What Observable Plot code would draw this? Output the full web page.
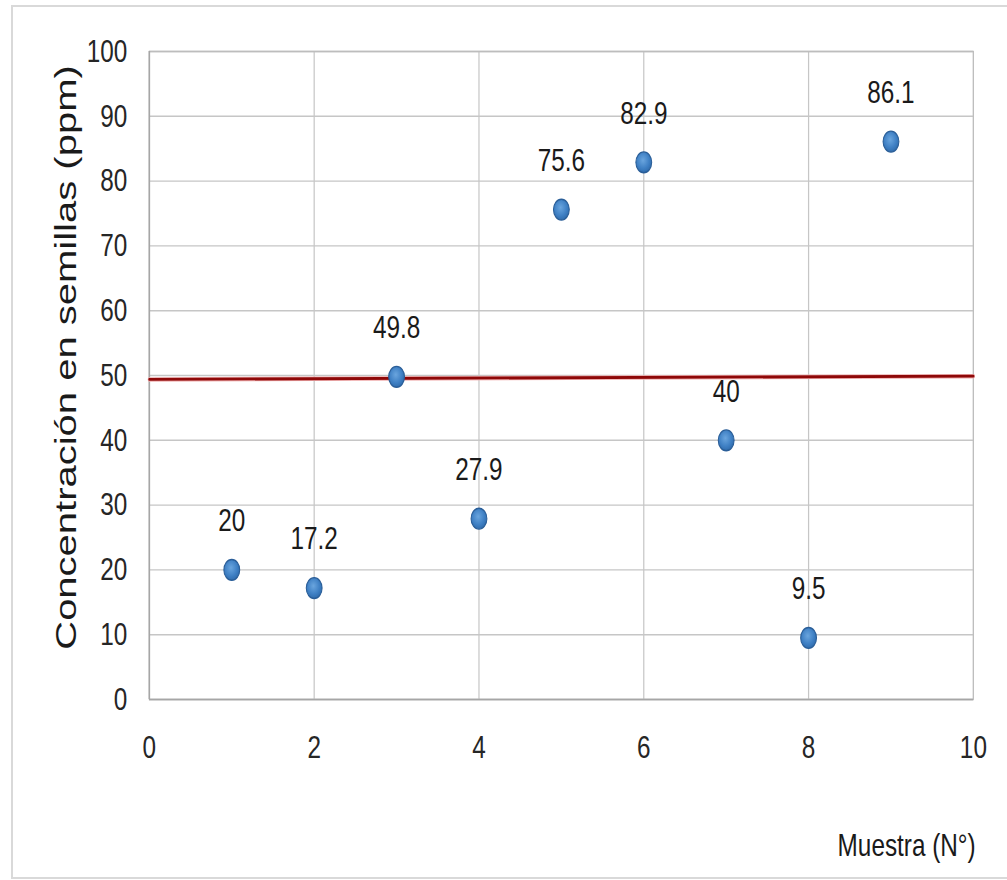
<!DOCTYPE html>
<html><head><meta charset="utf-8">
<script src="https://cdn.jsdelivr.net/npm/d3@7"></script>
<script src="https://cdn.jsdelivr.net/npm/@observablehq/plot@0.6"></script>
<style>
body{margin:0;background:#fff;}
#wrap{position:relative;width:1007px;height:880px;overflow:hidden;}
#border{position:absolute;left:11px;top:5px;width:1010px;height:874px;border:2px solid #d9d9d9;box-sizing:border-box;pointer-events:none;}
#chart{position:absolute;left:0;top:0;width:1400px;}
</style></head><body><div id="wrap"><div id="chart"></div><div id="border"></div></div>
<script>
const muestra = [1, 2, 3, 4, 5, 6, 7, 8, 9];
const concentracion = [20, 17.2, 49.8, 27.9, 75.6, 82.9, 40, 9.5, 86.1];
const etiquetas = ["20", "17.2", "49.8", "27.9", "75.6", "82.9", "40", "9.5", "86.1"];
const xTicks = [0, 2, 4, 6, 8, 10];
const yTicks = [0, 10, 20, 30, 40, 50, 60, 70, 80, 90, 100];
const lineaX = [0, 10];
const lineaY = [49.4, 49.9];
const tituloY = "Concentración en semillas (ppm)";
const tituloX = "Muestra (N°)";

const puntos = muestra.map((m, i) => ({x: m, y: concentracion[i], t: etiquetas[i]}));
const linea = lineaX.map((x, i) => ({x, y: lineaY[i]}));

// the original chart is horizontally compressed; draw wide, then squeeze
const s = 0.76;
const font = "'Liberation Sans',Arial,sans-serif";
const W = 1007 / s;

const chart = Plot.plot({
  width: W,
  height: 880,
  marginLeft: 149 / s,
  marginRight: 34 / s,
  marginTop: 51,
  marginBottom: 181,
  style: {fontFamily: font, fontSize: "32px", color: "#262626", background: "transparent"},
  x: {domain: [0, 10]},
  y: {domain: [0, 100]},
  marks: [
    Plot.gridX(xTicks, {stroke: "#c6c6c6", strokeOpacity: 1, strokeWidth: 1.6}),
    Plot.gridY(yTicks, {stroke: "#c6c6c6", strokeOpacity: 1, strokeWidth: 1.4}),
    Plot.frame({stroke: "#bdbdbd", strokeWidth: 1.5}),
    Plot.ruleX([0], {stroke: "#a6a6a6", strokeWidth: 2}),
    Plot.ruleY([0], {stroke: "#a6a6a6", strokeWidth: 1.6}),
    Plot.axisX({ticks: xTicks, tickSize: 0, tickPadding: 36, label: null, fontFamily: font, fontSize: 32, fill: "#262626"}),
    Plot.axisY({ticks: yTicks, tickSize: 0, tickPadding: 29, label: null, fontFamily: font, fontSize: 32, fill: "#262626"}),
    Plot.line(linea, {x: "x", y: "y", stroke: "#f0b0b0", strokeWidth: 4.5}),
    Plot.line(linea, {x: "x", y: "y", stroke: "#8e0808", strokeWidth: 2.8}),
    Plot.dot(puntos, {x: "x", y: "y", r: 10.4, fill: "url(#dotgrad)", stroke: "#2a5e98", strokeWidth: 1.4}),
    Plot.text(puntos, {x: "x", y: "y", text: "t", dy: -49, fontFamily: font, fontSize: 32, fill: "#1a1a1a"}),
    Plot.text([tituloY], {frameAnchor: "left", textAnchor: "middle", rotate: -90, dx: -109, dy: -18, fontFamily: font, fontSize: 40, fill: "#1a1a1a"}),
    Plot.text([tituloX], {frameAnchor: "bottom-right", textAnchor: "end", dx: 3, dy: 156, fontFamily: font, fontSize: 32, fill: "#1a1a1a"})
  ]
});
chart.style.maxWidth = "none";
chart.style.width = W + "px";
chart.style.height = "880px";
chart.style.transform = `scale(${s},1)`;
chart.style.transformOrigin = "0 0";
const defs = document.createElementNS("http://www.w3.org/2000/svg", "defs");
defs.innerHTML = `<radialGradient id="dotgrad" cx="45%" cy="40%" r="65%">
  <stop offset="0%" stop-color="#6aa5de"/><stop offset="60%" stop-color="#3f80c4"/><stop offset="100%" stop-color="#2d68a8"/>
</radialGradient>`;
chart.prepend(defs);
document.getElementById("chart").append(chart);
</script></body></html>
